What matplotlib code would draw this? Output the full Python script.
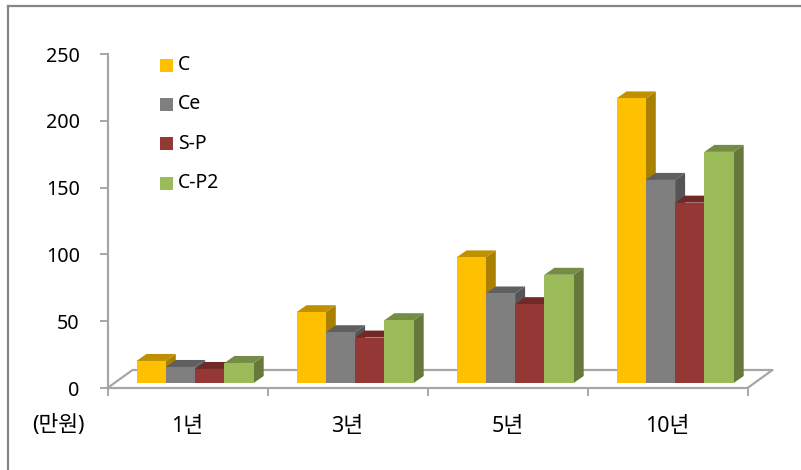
import matplotlib
matplotlib.use("Agg")
import matplotlib.pyplot as plt
from matplotlib.patches import Polygon, Rectangle

plt.rcParams['font.family'] = ['Noto Sans', 'Noto Sans CJK KR', 'DejaVu Sans']

categories = ['1년', '3년', '5년', '10년']
names = ['C', 'Ce', 'S-P', 'C-P2']
c_vals = [16.5, 53, 94, 213]
ce_vals = [12, 38, 67, 152]
sp_vals = [10.5, 34, 59, 135]
cp2_vals = [15, 47, 81, 173]
y_ticks = [0, 50, 100, 150, 200, 250]

front = ['#FFC000', '#7F7F7F', '#953735', '#9BBB59']
top = ['#BF9000', '#5F5F5F', '#702927', '#748C43']
side = ['#AA8000', '#555555', '#632523', '#66793A']

W, H = 801, 470
fig = plt.figure(figsize=(W / 100, H / 100), dpi=100)
fig.patch.set_facecolor('white')

# frame round the chart
fig.add_artist(plt.Line2D([8 / W, 8 / W], [0, 1 - 5.5 / H], color='#868686', lw=1.6))
fig.add_artist(plt.Line2D([8 / W, 1], [1 - 5.5 / H, 1 - 5.5 / H], color='#868686', lw=1.6))

# axes box in pixels: x 107.5-747.5, y 388-54
ax = fig.add_axes([107.5 / W, 1 - 388 / H, 640 / W, 334 / H])
ax.set_xlim(0, 4)
ax.set_ylim(0, 250)
ax.patch.set_alpha(0)
for s in ['top', 'right']:
    ax.spines[s].set_visible(False)
for s in ['left', 'bottom']:
    ax.spines[s].set_color('#A6A6A6')
    ax.spines[s].set_linewidth(1.6)

px = 4 / 640
py = 250 / 334
ax.set_xticks([0, 1, 2, 3, 4])
ax.set_xticklabels([])
ax.set_yticks(y_ticks)
ax.tick_params(axis='both', color='#A6A6A6', width=1.4, length=6, labelsize=14.2, pad=14)

# floor of the 3d box
dx_floor = 25 * px
dy_floor = 18 * py
ax.plot([0, dx_floor, 4 + dx_floor, 4], [0, dy_floor, dy_floor, 0], color='#A6A6A6', lw=1.6,
        clip_on=False, zorder=1)

bw = 29.3 * px
dx = 10 * px
dy = 7 * py
base = 5 * py
start = 29 * px
series = [c_vals, ce_vals, sp_vals, cp2_vals]
for i in range(len(categories)):
    for j in range(4):
        x0 = i + start + j * bw
        y1 = base + series[j][i]
        ax.add_patch(Polygon([(x0 + bw, base), (x0 + bw + dx, base + dy), (x0 + bw + dx, y1 + dy), (x0 + bw, y1)],
                             fc=side[j], ec='none', clip_on=False, zorder=2 + j))
        ax.add_patch(Polygon([(x0, y1), (x0 + dx, y1 + dy), (x0 + bw + dx, y1 + dy), (x0 + bw, y1)],
                             fc=top[j], ec='none', clip_on=False, zorder=2 + j))
        ax.add_patch(Rectangle((x0, base), bw, series[j][i], fc=front[j], ec='none', clip_on=False, zorder=2.5 + j))
    ax.text(i + 0.5, -38 * py, categories[i], ha='center', va='center', fontsize=15.5, clip_on=False)

fig.text(58 / W, 1 - 425 / H, '(만원)', ha='center', va='center', fontsize=15.5)

# legend
leg_y = [65, 104, 144, 183]
for name, col, y in zip(names, front, leg_y):
    fig.add_artist(Rectangle((160 / W, 1 - (y + 6.5) / H), 13 / W, 13 / H, fc=col, ec='none'))
    fig.text(178 / W, 1 - y / H, name, ha='left', va='center', fontsize=14)

fig.savefig('out.png', dpi=100)
